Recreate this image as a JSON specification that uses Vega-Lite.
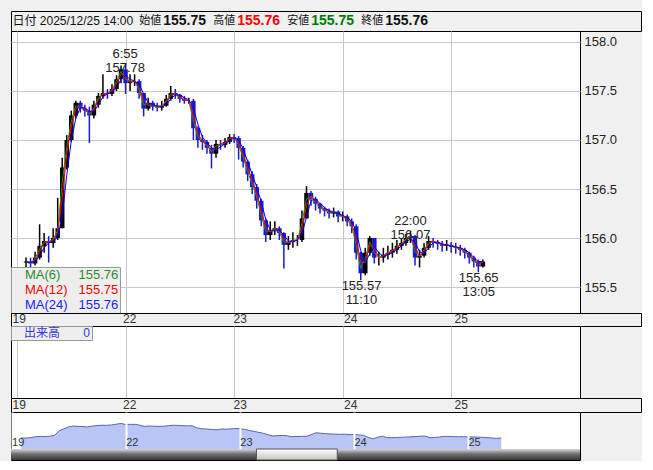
{
"$schema":"https://vega.github.io/schema/vega-lite/v6.json",
"padding":{"left":10,"top":10,"right":0,"bottom":0},
"background":"#f0f0f0",
"spacing":0,
"bounds":"flush",
"datasets":{
"header":[{"k":"始値","v":"155.75"},{"k":"高値","v":"155.76"},{"k":"安値","v":"155.75"},{"k":"終値","v":"155.76"}],
"stamp":[{"stamp":"日付 2025/12/25 14:00"}],
"notes":[{"t":23.92,"p":157.78,"txt":"6:55\n157.78","pos":"hi"},{"t":87.0,"p":156.07,"txt":"22:00\n156.07","pos":"hi"},{"t":76.17,"p":155.57,"txt":"155.57\n11:10","pos":"lo"},{"t":102.08,"p":155.65,"txt":"155.65\n13:05","pos":"lo"}],
"vol":[{"t":103,"v":0,"s":"出来高"}],
"scroll":[{"from":51.5,"to":68.5}],
"ohlc":[
{"t":2,"o":155.75,"h":155.80,"l":155.70,"c":155.76,"m6":155.76,"m12":155.76,"m24":155.76},
{"t":3,"o":155.76,"h":155.80,"l":155.68,"c":155.74,"m6":155.74,"m12":155.75,"m24":155.75},
{"t":4,"o":155.74,"h":155.86,"l":155.72,"c":155.80,"m6":155.79,"m12":155.77,"m24":155.76},
{"t":5,"o":155.80,"h":156.14,"l":155.78,"c":155.92,"m6":155.89,"m12":155.86,"m24":155.82},
{"t":6,"o":155.92,"h":156.05,"l":155.85,"c":155.97,"m6":155.96,"m12":155.95,"m24":155.90},
{"t":7,"o":155.97,"h":156.02,"l":155.75,"c":155.95,"m6":155.96,"m12":155.96,"m24":155.95},
{"t":8,"o":155.95,"h":156.10,"l":155.90,"c":156.00,"m6":155.99,"m12":155.98,"m24":155.97},
{"t":9,"o":156.00,"h":156.41,"l":155.98,"c":156.10,"m6":156.08,"m12":156.05,"m24":156.01},
{"t":10,"o":156.10,"h":156.82,"l":156.10,"c":156.72,"m6":156.57,"m12":156.41,"m24":156.23},
{"t":11,"o":156.72,"h":157.05,"l":156.70,"c":157.00,"m6":156.93,"m12":156.86,"m24":156.64},
{"t":12,"o":157.00,"h":157.30,"l":156.98,"c":157.25,"m6":157.19,"m12":157.13,"m24":156.99},
{"t":13,"o":157.25,"h":157.40,"l":157.22,"c":157.38,"m6":157.35,"m12":157.32,"m24":157.22},
{"t":14,"o":157.38,"h":157.40,"l":157.28,"c":157.32,"m6":157.34,"m12":157.35,"m24":157.33},
{"t":15,"o":157.32,"h":157.36,"l":157.24,"c":157.30,"m6":157.31,"m12":157.31,"m24":157.33},
{"t":16,"o":157.30,"h":157.34,"l":156.97,"c":157.25,"m6":157.26,"m12":157.28,"m24":157.29},
{"t":17,"o":157.25,"h":157.40,"l":157.22,"c":157.36,"m6":157.33,"m12":157.31,"m24":157.29},
{"t":18,"o":157.36,"h":157.48,"l":157.33,"c":157.45,"m6":157.43,"m12":157.41,"m24":157.36},
{"t":19,"o":157.45,"h":157.67,"l":157.42,"c":157.48,"m6":157.47,"m12":157.47,"m24":157.44},
{"t":20,"o":157.48,"h":157.52,"l":157.42,"c":157.47,"m6":157.47,"m12":157.48,"m24":157.47},
{"t":21,"o":157.47,"h":157.57,"l":157.45,"c":157.52,"m6":157.51,"m12":157.50,"m24":157.49},
{"t":22,"o":157.52,"h":157.66,"l":157.50,"c":157.62,"m6":157.60,"m12":157.57,"m24":157.53},
{"t":23,"o":157.62,"h":157.76,"l":157.58,"c":157.72,"m6":157.70,"m12":157.67,"m24":157.62},
{"t":24,"o":157.72,"h":157.78,"l":157.47,"c":157.58,"m6":157.62,"m12":157.65,"m24":157.66},
{"t":25,"o":157.58,"h":157.67,"l":157.50,"c":157.60,"m6":157.60,"m12":157.59,"m24":157.62},
{"t":26,"o":157.60,"h":157.67,"l":157.55,"c":157.60,"m6":157.60,"m12":157.60,"m24":157.60},
{"t":27,"o":157.60,"h":157.62,"l":157.42,"c":157.48,"m6":157.51,"m12":157.54,"m24":157.57},
{"t":28,"o":157.48,"h":157.48,"l":157.24,"c":157.32,"m6":157.36,"m12":157.40,"m24":157.47},
{"t":29,"o":157.32,"h":157.43,"l":157.30,"c":157.38,"m6":157.37,"m12":157.35,"m24":157.38},
{"t":30,"o":157.38,"h":157.40,"l":157.30,"c":157.34,"m6":157.35,"m12":157.36,"m24":157.36},
{"t":31,"o":157.34,"h":157.38,"l":157.29,"c":157.33,"m6":157.33,"m12":157.34,"m24":157.35},
{"t":32,"o":157.33,"h":157.40,"l":157.30,"c":157.35,"m6":157.35,"m12":157.34,"m24":157.34},
{"t":33,"o":157.35,"h":157.46,"l":157.34,"c":157.42,"m6":157.40,"m12":157.39,"m24":157.36},
{"t":34,"o":157.42,"h":157.55,"l":157.40,"c":157.48,"m6":157.47,"m12":157.45,"m24":157.42},
{"t":35,"o":157.48,"h":157.52,"l":157.42,"c":157.46,"m6":157.47,"m12":157.47,"m24":157.46},
{"t":36,"o":157.46,"h":157.47,"l":157.38,"c":157.42,"m6":157.43,"m12":157.44,"m24":157.46},
{"t":37,"o":157.42,"h":157.45,"l":157.37,"c":157.40,"m6":157.41,"m12":157.41,"m24":157.43},
{"t":38,"o":157.40,"h":157.43,"l":157.37,"c":157.40,"m6":157.40,"m12":157.40,"m24":157.41},
{"t":39,"o":157.40,"h":157.42,"l":157.00,"c":157.12,"m6":157.19,"m12":157.26,"m24":157.33},
{"t":40,"o":157.12,"h":157.14,"l":156.92,"c":157.00,"m6":157.03,"m12":157.06,"m24":157.16},
{"t":41,"o":157.00,"h":157.05,"l":156.90,"c":156.98,"m6":156.99,"m12":156.99,"m24":157.03},
{"t":42,"o":156.98,"h":157.00,"l":156.86,"c":156.92,"m6":156.94,"m12":156.95,"m24":156.97},
{"t":43,"o":156.92,"h":156.95,"l":156.71,"c":156.86,"m6":156.88,"m12":156.89,"m24":156.92},
{"t":44,"o":156.86,"h":157.00,"l":156.82,"c":156.96,"m6":156.94,"m12":156.91,"m24":156.90},
{"t":45,"o":156.96,"h":157.00,"l":156.90,"c":156.95,"m6":156.95,"m12":156.96,"m24":156.93},
{"t":46,"o":156.95,"h":157.02,"l":156.92,"c":156.98,"m6":156.97,"m12":156.97,"m24":156.96},
{"t":47,"o":156.98,"h":157.06,"l":156.96,"c":157.03,"m6":157.02,"m12":157.01,"m24":156.99},
{"t":48,"o":157.03,"h":157.06,"l":156.97,"c":157.02,"m6":157.02,"m12":157.03,"m24":157.02},
{"t":49,"o":157.02,"h":157.04,"l":156.80,"c":156.92,"m6":156.95,"m12":156.97,"m24":157.00},
{"t":50,"o":156.92,"h":156.94,"l":156.72,"c":156.78,"m6":156.82,"m12":156.85,"m24":156.91},
{"t":51,"o":156.78,"h":156.80,"l":156.58,"c":156.65,"m6":156.68,"m12":156.72,"m24":156.78},
{"t":52,"o":156.65,"h":156.68,"l":156.45,"c":156.52,"m6":156.55,"m12":156.59,"m24":156.65},
{"t":53,"o":156.52,"h":156.55,"l":156.30,"c":156.38,"m6":156.42,"m12":156.45,"m24":156.52},
{"t":54,"o":156.38,"h":156.40,"l":156.12,"c":156.18,"m6":156.23,"m12":156.28,"m24":156.37},
{"t":55,"o":156.18,"h":156.20,"l":155.96,"c":156.03,"m6":156.07,"m12":156.11,"m24":156.19},
{"t":56,"o":156.03,"h":156.17,"l":155.98,"c":156.08,"m6":156.07,"m12":156.06,"m24":156.08},
{"t":57,"o":156.08,"h":156.17,"l":156.03,"c":156.10,"m6":156.10,"m12":156.09,"m24":156.07},
{"t":58,"o":156.10,"h":156.12,"l":155.98,"c":156.05,"m6":156.06,"m12":156.08,"m24":156.08},
{"t":59,"o":156.05,"h":156.06,"l":155.69,"c":155.93,"m6":155.96,"m12":155.99,"m24":156.03},
{"t":60,"o":155.93,"h":156.02,"l":155.88,"c":155.96,"m6":155.95,"m12":155.95,"m24":155.97},
{"t":61,"o":155.96,"h":156.06,"l":155.90,"c":155.98,"m6":155.98,"m12":155.97,"m24":155.96},
{"t":62,"o":155.98,"h":156.03,"l":155.92,"c":155.98,"m6":155.98,"m12":155.98,"m24":155.98},
{"t":63,"o":155.98,"h":156.28,"l":155.96,"c":156.20,"m6":156.15,"m12":156.09,"m24":156.04},
{"t":64,"o":156.20,"h":156.53,"l":156.20,"c":156.46,"m6":156.40,"m12":156.33,"m24":156.21},
{"t":65,"o":156.46,"h":156.48,"l":156.33,"c":156.40,"m6":156.42,"m12":156.43,"m24":156.38},
{"t":66,"o":156.40,"h":156.42,"l":156.28,"c":156.35,"m6":156.36,"m12":156.38,"m24":156.40},
{"t":67,"o":156.35,"h":156.36,"l":156.25,"c":156.30,"m6":156.31,"m12":156.33,"m24":156.35},
{"t":68,"o":156.30,"h":156.32,"l":156.22,"c":156.28,"m6":156.29,"m12":156.29,"m24":156.31},
{"t":69,"o":156.28,"h":156.30,"l":156.20,"c":156.25,"m6":156.26,"m12":156.27,"m24":156.28},
{"t":70,"o":156.25,"h":156.31,"l":156.21,"c":156.27,"m6":156.27,"m12":156.26,"m24":156.26},
{"t":71,"o":156.27,"h":156.28,"l":156.16,"c":156.22,"m6":156.23,"m12":156.25,"m24":156.25},
{"t":72,"o":156.22,"h":156.27,"l":156.17,"c":156.22,"m6":156.22,"m12":156.22,"m24":156.23},
{"t":73,"o":156.22,"h":156.24,"l":156.12,"c":156.17,"m6":156.18,"m12":156.20,"m24":156.21},
{"t":74,"o":156.17,"h":156.20,"l":156.05,"c":156.12,"m6":156.13,"m12":156.15,"m24":156.17},
{"t":75,"o":156.12,"h":156.14,"l":155.78,"c":155.85,"m6":155.92,"m12":155.99,"m24":156.07},
{"t":76,"o":155.85,"h":155.86,"l":155.57,"c":155.64,"m6":155.69,"m12":155.75,"m24":155.87},
{"t":77,"o":155.64,"h":155.90,"l":155.62,"c":155.85,"m6":155.80,"m12":155.75,"m24":155.75},
{"t":78,"o":155.85,"h":156.02,"l":155.82,"c":156.00,"m6":155.96,"m12":155.93,"m24":155.84},
{"t":79,"o":156.00,"h":156.00,"l":155.74,"c":155.80,"m6":155.85,"m12":155.90,"m24":155.91},
{"t":80,"o":155.80,"h":155.86,"l":155.72,"c":155.80,"m6":155.80,"m12":155.80,"m24":155.85},
{"t":81,"o":155.80,"h":155.90,"l":155.75,"c":155.83,"m6":155.82,"m12":155.82,"m24":155.81},
{"t":82,"o":155.83,"h":155.92,"l":155.78,"c":155.85,"m6":155.85,"m12":155.84,"m24":155.83},
{"t":83,"o":155.85,"h":155.95,"l":155.80,"c":155.88,"m6":155.87,"m12":155.87,"m24":155.85},
{"t":84,"o":155.88,"h":155.98,"l":155.84,"c":155.92,"m6":155.91,"m12":155.90,"m24":155.88},
{"t":85,"o":155.92,"h":156.00,"l":155.88,"c":155.95,"m6":155.94,"m12":155.94,"m24":155.92},
{"t":86,"o":155.95,"h":156.04,"l":155.92,"c":156.00,"m6":155.99,"m12":155.98,"m24":155.96},
{"t":87,"o":156.00,"h":156.07,"l":155.95,"c":156.02,"m6":156.02,"m12":156.01,"m24":155.99},
{"t":88,"o":156.02,"h":156.03,"l":155.72,"c":155.80,"m6":155.86,"m12":155.91,"m24":155.96},
{"t":89,"o":155.80,"h":155.88,"l":155.70,"c":155.82,"m6":155.82,"m12":155.81,"m24":155.86},
{"t":90,"o":155.82,"h":155.95,"l":155.80,"c":155.90,"m6":155.88,"m12":155.86,"m24":155.84},
{"t":91,"o":155.90,"h":156.02,"l":155.88,"c":155.97,"m6":155.95,"m12":155.94,"m24":155.90},
{"t":92,"o":155.97,"h":156.00,"l":155.90,"c":155.96,"m6":155.96,"m12":155.97,"m24":155.95},
{"t":93,"o":155.96,"h":155.98,"l":155.88,"c":155.94,"m6":155.95,"m12":155.95,"m24":155.96},
{"t":94,"o":155.94,"h":155.97,"l":155.86,"c":155.92,"m6":155.93,"m12":155.93,"m24":155.94},
{"t":95,"o":155.92,"h":155.98,"l":155.87,"c":155.93,"m6":155.93,"m12":155.93,"m24":155.93},
{"t":96,"o":155.93,"h":155.96,"l":155.85,"c":155.91,"m6":155.92,"m12":155.92,"m24":155.92},
{"t":97,"o":155.91,"h":155.95,"l":155.84,"c":155.90,"m6":155.90,"m12":155.91,"m24":155.91},
{"t":98,"o":155.90,"h":155.93,"l":155.82,"c":155.88,"m6":155.89,"m12":155.89,"m24":155.90},
{"t":99,"o":155.88,"h":155.90,"l":155.79,"c":155.85,"m6":155.86,"m12":155.87,"m24":155.88},
{"t":100,"o":155.85,"h":155.86,"l":155.74,"c":155.80,"m6":155.81,"m12":155.83,"m24":155.85},
{"t":101,"o":155.80,"h":155.82,"l":155.70,"c":155.76,"m6":155.77,"m12":155.78,"m24":155.80},
{"t":102,"o":155.76,"h":155.78,"l":155.65,"c":155.71,"m6":155.72,"m12":155.74,"m24":155.76},
{"t":103,"o":155.71,"h":155.78,"l":155.70,"c":155.76,"m6":155.76,"m12":155.75,"m24":155.76}
]
},
"vconcat":[
{
"width":630,"height":20,
"view":{"fill":"#f0f0f0","stroke":"#000000"},
"data":{"name":"header"},
"encoding":{"x":{"field":"k","type":"nominal","bandPosition":0,"axis":null,"scale":{"type":"band","domain":["_a","始値","高値","安値","終値","_b","_c"],"paddingInner":0,"paddingOuter":0.757,"align":0.484}}},
"layer":[
{"data":{"name":"stamp"},"mark":{"type":"text","align":"right","dx":-6,"fontSize":12,"color":"#111111","font":"Liberation Sans, Noto Sans CJK JP"},"encoding":{"x":{"datum":"始値","type":"nominal","bandPosition":0},"text":{"field":"stamp"}}},
{"mark":{"type":"text","align":"left","fontSize":11,"color":"#111111","font":"Liberation Sans, Noto Sans CJK JP"},"encoding":{"text":{"field":"k"}}},
{"mark":{"type":"text","align":"left","dx":24,"fontSize":14,"fontWeight":"bold","font":"Liberation Sans"},"encoding":{"text":{"field":"v"},"color":{"field":"k","type":"nominal","scale":{"domain":["始値","高値","安値","終値"],"range":["#111111","#ff0000","#007a00","#111111"]},"legend":null}}}
]
},
{
"width":569,"height":282,
"view":{"fill":"#ffffff","stroke":"#000000"},
"layer":[
{"data":{"name":"ohlc"},"mark":{"type":"rule","strokeWidth":1.5},
"encoding":{
"x":{"field":"t","type":"quantitative","scale":{"domain":[-0.22,123.37],"nice":false,"zero":false},"axis":{"values":[0,24,48,72,96],"grid":true,"gridColor":"#c8c8c8","ticks":false,"domain":false,"labels":false,"title":null}},
"y":{"field":"l","type":"quantitative","scale":{"domain":[155.235,158.112],"nice":false,"zero":false},"axis":{"orient":"right","values":[155.5,156,156.5,157,157.5,158],"format":".1f","grid":true,"gridColor":"#c8c8c8","ticks":false,"domain":false,"labelPadding":4,"labelFontSize":13,"labelColor":"#222222","title":null}},
"y2":{"field":"h"},
"color":{"condition":{"test":"datum.c < datum.o","value":"#1a1ac8"},"value":"#000000"}}},
{"data":{"name":"ohlc"},"mark":{"type":"bar","size":4.5},
"encoding":{"x":{"field":"t","type":"quantitative"},"y":{"field":"o","type":"quantitative"},"y2":{"field":"c"},
"color":{"condition":{"test":"datum.c < datum.o","value":"#1a1ac8"},"value":"#000000"}}},
{"data":{"name":"ohlc"},"transform":[{"fold":["m6","m12","m24"],"as":["ma","val"]}],"mark":{"type":"line","strokeWidth":1},
"encoding":{"x":{"field":"t","type":"quantitative"},"y":{"field":"val","type":"quantitative"},
"color":{"field":"ma","type":"nominal","sort":null,"scale":{"domain":["m6","m12","m24"],"range":["#2a8a2a","#ff0000","#0000ff"]},
"legend":{"orient":"bottom-left","offset":0,"title":null,"fillColor":"#eeeeee","strokeColor":"#9a9a9a","padding":1,"symbolSize":0,"symbolOpacity":0,"symbolStrokeWidth":0,"labelOffset":0,"labelFont":"Liberation Sans","labelFontSize":13,"rowPadding":1,
"labelExpr":"datum.value == 'm6' ? 'MA(6)\u00a0\u00a0\u00a0\u00a0\u00a0155.76' : datum.value == 'm12' ? 'MA(12)\u00a0\u00a0\u00a0155.75' : 'MA(24)\u00a0\u00a0\u00a0155.76'",
"encode":{"labels":{"update":{"fill":{"signal":"datum.value == 'm6' ? '#2a8a2a' : datum.value == 'm12' ? '#ff0000' : '#2020ff'"}}}}}}}},
{"data":{"name":"notes"},"transform":[{"filter":"datum.pos == 'hi'"}],"mark":{"type":"text","baseline":"bottom","dy":-3,"lineBreak":"\n","lineHeight":14,"fontSize":13,"color":"#222222","font":"Liberation Sans"},
"encoding":{"x":{"field":"t","type":"quantitative"},"y":{"field":"p","type":"quantitative"},"text":{"field":"txt"}}},
{"data":{"name":"notes"},"transform":[{"filter":"datum.pos == 'lo'"}],"mark":{"type":"text","baseline":"top","dy":0,"lineBreak":"\n","lineHeight":14,"fontSize":13,"color":"#222222","font":"Liberation Sans"},
"encoding":{"x":{"field":"t","type":"quantitative"},"y":{"field":"p","type":"quantitative"},"text":{"field":"txt"}}}
]
},
{
"width":630,"height":13,
"view":{"fill":"#f0f0f0","stroke":"#000000"},
"data":{"name":"vol"},
"mark":{"type":"point","opacity":0},
"encoding":{"x":{"field":"t","type":"quantitative","scale":{"domain":[-0.22,136.62],"nice":false,"zero":false},"axis":{"values":[0,24,48,72,96],"labelExpr":"['19','22','23','24','25'][datum.value/24]","grid":false,"ticks":false,"domain":false,"labelAlign":"left","labelBaseline":"top","labelPadding":0,"offset":-13,"labelFontSize":12,"labelColor":"#333333","labelOverlap":false,"labelFlush":false,"title":null}}}
},
{
"width":569,"height":72,
"view":{"fill":"#ffffff","stroke":"#000000"},
"data":{"name":"vol"},
"mark":{"type":"bar","size":3},
"encoding":{
"x":{"field":"t","type":"quantitative","scale":{"domain":[-0.22,123.37],"nice":false,"zero":false},"axis":{"values":[0,24,48,72,96],"grid":true,"gridColor":"#c8c8c8","ticks":false,"domain":false,"labels":false,"title":null}},
"y":{"field":"v","type":"quantitative","scale":{"domain":[0,1]},"axis":null},
"color":{"field":"s","type":"nominal","scale":{"range":["#3535d5"]},
"legend":{"orient":"top-left","offset":0,"title":null,"fillColor":"#eeeeee","strokeColor":"#9a9a9a","padding":1,"symbolSize":0,"symbolOpacity":0,"symbolStrokeWidth":0,"labelOffset":0,"labelFont":"Liberation Sans, Noto Sans CJK JP","labelFontSize":12,"labelColor":"#3535d5",
"labelExpr":"datum.label + '\u00a0\u00a0\u00a0\u00a0\u00a0\u00a0\u00a00'"}}
}
},
{
"width":630,"height":14,
"view":{"fill":"#f0f0f0","stroke":"#000000"},
"data":{"name":"vol"},
"mark":{"type":"point","opacity":0},
"encoding":{"x":{"field":"t","type":"quantitative","scale":{"domain":[-0.22,136.62],"nice":false,"zero":false},"axis":{"values":[0,24,48,72,96],"labelExpr":"['19','22','23','24','25'][datum.value/24]","grid":false,"ticks":false,"domain":false,"labelAlign":"left","labelBaseline":"top","labelPadding":1,"offset":-14,"labelFontSize":12,"labelColor":"#333333","labelOverlap":false,"labelFlush":false,"title":null}}}
},
{
"width":569,"height":37,
"view":{"fill":"#ffffff","stroke":"#000000"},
"data":{"name":"ohlc"},
"mark":{"type":"area","color":"#b9c6f5","opacity":1,"line":{"color":"#5a62b5","strokeWidth":1}},
"encoding":{
"x":{"field":"t","type":"quantitative","scale":{"domain":[-0.13,119.56],"nice":false,"zero":false},"axis":{"values":[0,24,48,72,96],"labelExpr":"['19','22','23','24','25'][datum.value/24]","grid":true,"gridColor":"#ffffff","gridWidth":2,"zindex":1,"ticks":false,"domain":false,"labelAlign":"left","labelBaseline":"top","labelPadding":0,"offset":-13,"labelFontSize":11,"labelColor":"#333333","labelOverlap":false,"labelFlush":false,"title":null}},
"y":{"field":"c","type":"quantitative","scale":{"domain":[154.27,159.27],"nice":false,"zero":false,"clamp":true},"axis":null}
}
},
{
"width":569,"height":11,
"view":{"fill":"#ffffff","stroke":"#000000"},
"data":{"name":"scroll"},
"layer":[
{"mark":{"type":"rect","fill":{"gradient":"linear","x1":0,"y1":0,"x2":0,"y2":1,"stops":[{"offset":0,"color":"#d8d8d8"},{"offset":0.45,"color":"#707070"},{"offset":1,"color":"#3a3a3a"}]}}},
{"mark":{"type":"rect","stroke":"#555555","strokeWidth":1,"fill":{"gradient":"linear","x1":0,"y1":0,"x2":0,"y2":1,"stops":[{"offset":0,"color":"#ffffff"},{"offset":1,"color":"#c4c4c4"}]}},
"encoding":{"x":{"field":"from","type":"quantitative","scale":{"domain":[-0.13,119.56],"nice":false,"zero":false},"axis":null},"x2":{"field":"to"}}}
]
}
],
"resolve":{"scale":{"x":"independent","y":"independent","color":"independent"},"legend":{"color":"independent"}},
"config":{
"view":{"stroke":"#000000"},
"axis":{"labelFont":"Liberation Sans"},
"text":{"font":"Liberation Sans, Noto Sans CJK JP"}
}
}
